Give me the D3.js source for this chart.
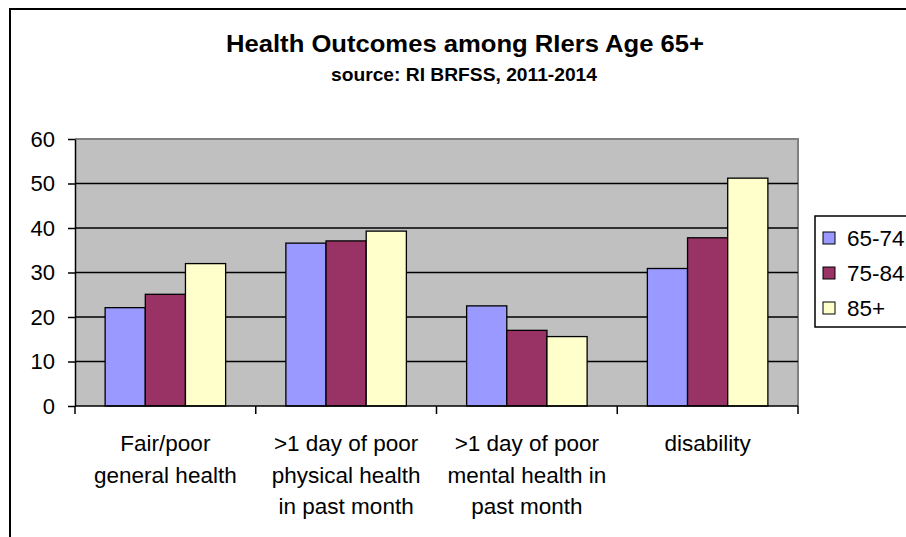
<!DOCTYPE html>
<html>
<head>
<meta charset="utf-8">
<script src="https://cdn.jsdelivr.net/npm/d3@7"></script>
<style>
  body { margin: 0; background: #fff; }
  svg { display: block; font-family: "Liberation Sans", Arial, sans-serif; }
</style>
</head>
<body>
<svg id="chart" width="906" height="537"></svg>
<script>
// categories, series and values
const categories = [
  ["Fair/poor", "general health"],
  [">1 day of poor", "physical health", "in past month"],
  [">1 day of poor", "mental health in", "past month"],
  ["disability"]
];
const series = ["65-74", "75-84", "85+"];
const colors = ["#9999FF", "#993366", "#FFFFCC"];
const values = [
  [22.1, 25.1, 32.0],
  [36.6, 37.1, 39.3],
  [22.5, 17.0, 15.6],
  [30.9, 37.8, 51.2]
];
const yTicks = [0, 10, 20, 30, 40, 50, 60];

const svg = d3.select("#chart");
const plot = { left: 75, right: 798, top: 139, bottom: 406 };

// outer chart frame (left and top edges visible)
svg.append("path")
  .attr("d", "M10,537 L10,9 L906,9")
  .attr("fill", "none")
  .attr("stroke", "#000")
  .attr("stroke-width", 2);

// titles
svg.append("text")
  .attr("x", 465).attr("y", 52)
  .attr("text-anchor", "middle")
  .attr("font-size", 24).attr("font-weight", "bold")
  .attr("textLength", 478).attr("lengthAdjust", "spacingAndGlyphs")
  .text("Health Outcomes among RIers Age 65+");
svg.append("text")
  .attr("x", 464).attr("y", 81)
  .attr("text-anchor", "middle")
  .attr("font-size", 19).attr("font-weight", "bold")
  .attr("textLength", 266).attr("lengthAdjust", "spacingAndGlyphs")
  .text("source: RI BRFSS, 2011-2014");

const x0 = d3.scaleBand()
  .domain(d3.range(categories.length))
  .range([plot.left, plot.right]);

const x1 = d3.scaleBand()
  .domain(series)
  .range([0, x0.bandwidth()])
  .paddingOuter(0.75)
  .paddingInner(0);

const y = d3.scaleLinear().domain([0, 60]).range([plot.bottom, plot.top]);

// plot background
svg.append("rect")
  .attr("x", plot.left).attr("y", plot.top)
  .attr("width", plot.right - plot.left).attr("height", plot.bottom - plot.top)
  .attr("fill", "#C0C0C0");
svg.append("path")
  .attr("d", `M${plot.left},${plot.top} L${plot.right},${plot.top} L${plot.right},${plot.bottom}`)
  .attr("fill", "none").attr("stroke", "#808080").attr("stroke-width", 2);

// gridlines
svg.append("g")
  .selectAll("line")
  .data(yTicks.filter(d => d > 0 && d < 60))
  .join("line")
  .attr("x1", plot.left).attr("x2", plot.right)
  .attr("y1", d => y(d)).attr("y2", d => y(d))
  .attr("stroke", "#000").attr("stroke-width", 1.3);

// bars
svg.append("g")
  .selectAll("g")
  .data(values)
  .join("g")
  .attr("transform", (d, i) => `translate(${x0(i)},0)`)
  .selectAll("rect")
  .data(d => d.map((v, j) => ({ v, s: series[j], c: colors[j] })))
  .join("rect")
  .attr("x", d => x1(d.s))
  .attr("y", d => y(d.v))
  .attr("width", x1.bandwidth())
  .attr("height", d => y(0) - y(d.v))
  .attr("fill", d => d.c)
  .attr("stroke", "#000")
  .attr("stroke-width", 1.3);

// y axis
const yAxis = svg.append("g")
  .attr("transform", `translate(${plot.left},0)`)
  .call(d3.axisLeft(y).tickValues(yTicks).tickSize(7).tickPadding(13).tickSizeOuter(0));
yAxis.select(".domain").attr("stroke", "#000").attr("stroke-width", 1.5);
yAxis.selectAll(".tick line").attr("stroke", "#000").attr("stroke-width", 1.5);
yAxis.selectAll("text")
  .attr("font-size", 22).attr("fill", "#000")
  .attr("font-family", "Liberation Sans, Arial, sans-serif");

// x axis baseline with category boundary ticks
const xAxis = svg.append("g");
xAxis.append("line")
  .attr("x1", plot.left).attr("x2", plot.right)
  .attr("y1", plot.bottom).attr("y2", plot.bottom)
  .attr("stroke", "#000").attr("stroke-width", 1.5);
xAxis.selectAll("line.tk")
  .data(d3.range(categories.length + 1))
  .join("line")
  .attr("class", "tk")
  .attr("x1", i => plot.left + i * x0.step())
  .attr("x2", i => plot.left + i * x0.step())
  .attr("y1", plot.bottom).attr("y2", plot.bottom + 8)
  .attr("stroke", "#000").attr("stroke-width", 1.5);

xAxis.selectAll("text.cat")
  .data(categories)
  .join("text")
  .attr("class", "cat")
  .attr("text-anchor", "middle")
  .attr("font-size", 22.5)
  .attr("x", (d, i) => x0(i) + x0.bandwidth() / 2)
  .attr("y", 451)
  .selectAll("tspan")
  .data(d => d)
  .join("tspan")
  .attr("x", function () { return d3.select(this.parentNode).attr("x"); })
  .attr("dy", (d, i) => i === 0 ? 0 : 31.5)
  .text(d => d);

// legend
const legend = svg.append("g");
legend.append("rect")
  .attr("x", 815).attr("y", 216)
  .attr("width", 100).attr("height", 111)
  .attr("fill", "#fff").attr("stroke", "#000").attr("stroke-width", 1.5);
const items = legend.selectAll("g")
  .data(series)
  .join("g")
  .attr("transform", (d, i) => `translate(823,${238 + i * 35})`);
items.append("rect")
  .attr("x", 0).attr("y", -6)
  .attr("width", 12).attr("height", 12)
  .attr("fill", (d, i) => colors[i])
  .attr("stroke", "#000").attr("stroke-width", 1);
items.append("text")
  .attr("x", 24).attr("y", 0)
  .attr("dy", "0.35em")
  .attr("font-size", 22.5)
  .text(d => d);
</script>
</body>
</html>
